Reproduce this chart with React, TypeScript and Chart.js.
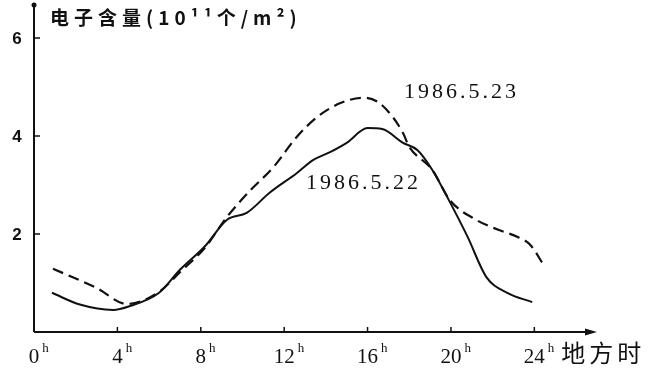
import React, { useEffect, useRef } from "react";
import { Chart, registerables } from "chart.js";

Chart.register(...registerables);

const hours22 = [0.86, 2.2, 3.79, 4.6, 6.0, 7.0, 8.2, 9.26, 10.2, 11.3, 12.6, 13.4, 14.2, 15.0, 16.0, 16.7, 17.7, 18.4, 19.1, 19.9, 20.8, 21.7, 22.7, 23.9];
const values22 = [0.8, 0.56, 0.45, 0.53, 0.8, 1.27, 1.75, 2.29, 2.43, 2.84, 3.24, 3.51, 3.67, 3.86, 4.16, 4.14, 3.86, 3.71, 3.31, 2.69, 1.94, 1.12, 0.8, 0.61];
const hours23 = [0.91, 3.0, 4.46, 6.0, 7.0, 8.2, 9.26, 10.4, 11.5, 12.6, 13.6, 14.7, 15.8, 16.5, 17.2, 17.7, 18.0, 19.1, 19.95, 21.2, 22.3, 23.2, 23.8, 24.5];
const values23 = [1.29, 0.9, 0.57, 0.82, 1.22, 1.72, 2.35, 2.9, 3.37, 3.98, 4.39, 4.67, 4.78, 4.69, 4.39, 4.06, 3.78, 3.31, 2.69, 2.29, 2.08, 1.94, 1.78, 1.33];
const seriesLabels = ["1986.5.22", "1986.5.23"];
const xTicks = [0, 4, 8, 12, 16, 20, 24];
const yTicks = [2, 4, 6];
const yTitle = "电子含量(10¹¹个/m²)";
const xTitle = "地方时";

const SERIF = "'Liberation Serif', 'DejaVu Serif', serif";

const overlay = {
  id: "overlay",
  afterDraw(chart: any) {
    const ctx = chart.ctx;
    const xs = chart.scales.x;
    const ys = chart.scales.y;
    const { left, right, top, bottom } = chart.chartArea;
    ctx.save();
    ctx.strokeStyle = "#111";
    ctx.fillStyle = "#111";
    ctx.lineWidth = 2;
    // axes
    ctx.beginPath();
    ctx.moveTo(left, bottom);
    ctx.lineTo(left, top - 3);
    ctx.moveTo(left, bottom);
    ctx.lineTo(right, bottom);
    ctx.stroke();
    // arrow on x axis
    ctx.beginPath();
    ctx.moveTo(right + 7, bottom);
    ctx.lineTo(right - 5, bottom - 3.5);
    ctx.lineTo(right - 5, bottom + 3.5);
    ctx.closePath();
    ctx.fill();
    // dot on y axis top
    ctx.beginPath();
    ctx.arc(left, top - 3, 2.5, 0, Math.PI * 2);
    ctx.fill();
    // ticks inside
    ctx.lineWidth = 1.5;
    ctx.beginPath();
    xTicks.forEach((t) => {
      if (t === 0) return;
      const px = xs.getPixelForValue(t);
      ctx.moveTo(px, bottom);
      ctx.lineTo(px, bottom - 5);
    });
    yTicks.forEach((t) => {
      const py = ys.getPixelForValue(t);
      ctx.moveTo(left, py);
      ctx.lineTo(left + 6, py);
    });
    ctx.stroke();
    // y tick labels
    ctx.font = "bold 17px 'Liberation Sans', Arial, sans-serif";
    ctx.textAlign = "center";
    ctx.textBaseline = "middle";
    yTicks.forEach((t) => {
      ctx.fillText(String(t), 17, ys.getPixelForValue(t) + 1);
    });
    // x tick labels with superscript h
    ctx.textBaseline = "alphabetic";
    xTicks.forEach((t) => {
      const px = xs.getPixelForValue(t);
      ctx.font = `21px ${SERIF}`;
      ctx.textAlign = "center";
      const s = String(t);
      const w = ctx.measureText(s).width;
      ctx.fillText(s, px, 363);
      ctx.font = `13px ${SERIF}`;
      ctx.textAlign = "left";
      ctx.fillText("h", px + w / 2 + 3, 352);
    });
    // titles
    ctx.textBaseline = "middle";
    ctx.textAlign = "left";
    ctx.font = "bold 19px 'Noto Sans CJK SC'";
    (ctx as any).letterSpacing = "5px";
    ctx.fillText(yTitle, left + 16, 18);
    ctx.font = "24px 'Noto Sans CJK SC'";
    (ctx as any).letterSpacing = "4px";
    ctx.fillText(xTitle, xs.getPixelForValue(24) + 27, 353);
    // series labels
    ctx.font = `22px ${SERIF}`;
    (ctx as any).letterSpacing = "3px";
    ctx.fillText(seriesLabels[1], xs.getPixelForValue(17.75), ys.getPixelForValue(4.9));
    ctx.fillText(seriesLabels[0], xs.getPixelForValue(13.05), ys.getPixelForValue(3.04));
    ctx.restore();
  },
};

export default function App() {
  const ref = useRef<HTMLCanvasElement>(null);
  useEffect(() => {
    const chart = new Chart(ref.current!, {
      type: "line",
      data: {
        datasets: [
          {
            label: seriesLabels[0],
            data: hours22.map((h, i) => ({ x: h, y: values22[i] })),
            borderColor: "#111",
            borderWidth: 2,
            pointRadius: 0,
            tension: 0.4,
            cubicInterpolationMode: "monotone",
          },
          {
            label: seriesLabels[1],
            data: hours23.map((h, i) => ({ x: h, y: values23[i] })),
            borderColor: "#111",
            borderWidth: 2.2,
            borderDash: [11, 6],
            pointRadius: 0,
            tension: 0.4,
            cubicInterpolationMode: "monotone",
          },
        ],
      },
      plugins: [overlay],
      options: {
        animation: false,
        responsive: false,
        layout: { padding: { top: 8, right: 76, left: 0, bottom: 0 } },
        plugins: { legend: { display: false }, tooltip: { enabled: false } },
        scales: {
          x: {
            type: "linear",
            min: 0,
            max: 26.67,
            afterBuildTicks: (s: any) => {
              s.ticks = xTicks.map((v) => ({ value: v }));
            },
            afterFit: (s: any) => {
              s.height = 46;
            },
            grid: { display: false, drawTicks: false },
            border: { display: false },
            ticks: { display: false },
          },
          y: {
            min: 0,
            max: 6.61,
            afterBuildTicks: (s: any) => {
              s.ticks = yTicks.map((v) => ({ value: v }));
            },
            afterFit: (s: any) => {
              s.width = 34;
            },
            grid: { display: false, drawTicks: false },
            border: { display: false },
            ticks: { display: false },
          },
        },
      },
    });
    return () => chart.destroy();
  }, []);
  return (
    <div style={{ position: "absolute", left: 0, top: 0, width: 666, height: 378, background: "#fff" }}>
      <canvas ref={ref} width={666} height={378} style={{ display: "block" }} />
    </div>
  );
}
